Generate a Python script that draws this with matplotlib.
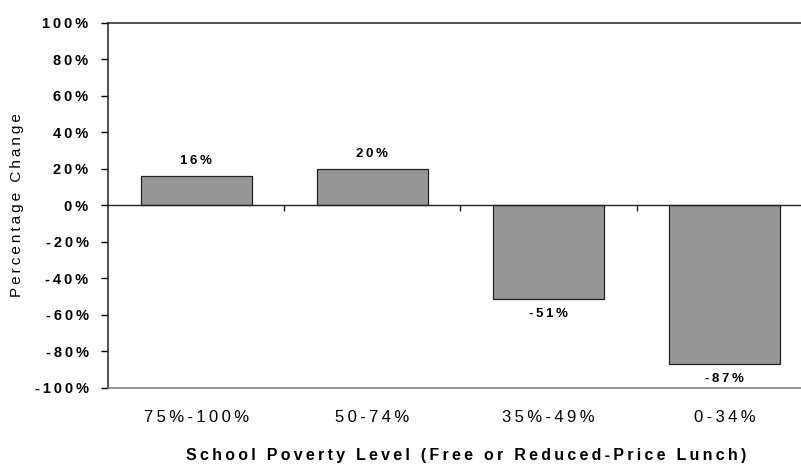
import matplotlib
matplotlib.use("Agg")
import matplotlib.pyplot as plt
import numpy as np

categories = ["75%-100%", "50-74%", "35%-49%", "0-34%"]
changes = [16, 20, -51, -87]
y_ticks = [-100, -80, -60, -40, -20, 0, 20, 40, 60, 80, 100]

BAR = "#969696"
THIN = "\u2009"


def spaced(s):
    # the original uses wide letter spacing
    return THIN.join(s)


plt.rcParams["font.family"] = ["Liberation Sans", "DejaVu Sans"]

fig = plt.figure(figsize=(8.01, 4.66), dpi=100)
ax = fig.add_axes([0.1348, 0.1674, 0.880, 0.7833])

x = np.arange(len(categories))
ax.bar(x, changes, width=0.63, color=BAR, edgecolor="#222222", linewidth=0.9, zorder=3)

for xi, v in zip(x, changes):
    if v >= 0:
        ax.text(xi, v + 5, spaced(f"{v}%"), ha="center", va="bottom", fontsize=9.5, fontweight="bold")
    else:
        ax.text(xi, v - 5, spaced(f"{v}%"), ha="center", va="top", fontsize=9.5, fontweight="bold")

# zero line with small category dividers
ax.axhline(0, color="#222222", linewidth=1.0, zorder=4)
ax.vlines(x[:-1] + 0.5, -3, 0, color="#222222", linewidth=1.0, zorder=4)

ax.set_xlim(-0.5, len(categories) - 0.5)
ax.set_ylim(-100, 100)
ax.set_yticks(y_ticks)
ax.set_yticklabels([spaced(f"{t}%") for t in y_ticks], fontsize=10.5, fontweight="bold")
ax.set_xticks(x)
ax.set_xticklabels([spaced(c) for c in categories], fontsize=12)
ax.tick_params(axis="x", length=0, pad=16)
ax.tick_params(axis="y", length=5, width=1, direction="out", pad=9)

ax.spines["right"].set_visible(False)
ax.spines["top"].set_color("#222222")
ax.spines["left"].set_color("#222222")
ax.spines["bottom"].set_color("#777777")
for s in ax.spines.values():
    s.set_linewidth(1.1)

ax.set_xlabel(spaced("School Poverty Level (Free or Reduced-Price Lunch)"), fontsize=11.5,
              fontweight="bold")
ax.xaxis.set_label_coords(0.508, -0.165)
ax.set_ylabel(spaced("Percentage Change"), fontsize=11)
ax.yaxis.set_label_coords(-0.119, 0.5)

fig.savefig("out.png", dpi=100)
